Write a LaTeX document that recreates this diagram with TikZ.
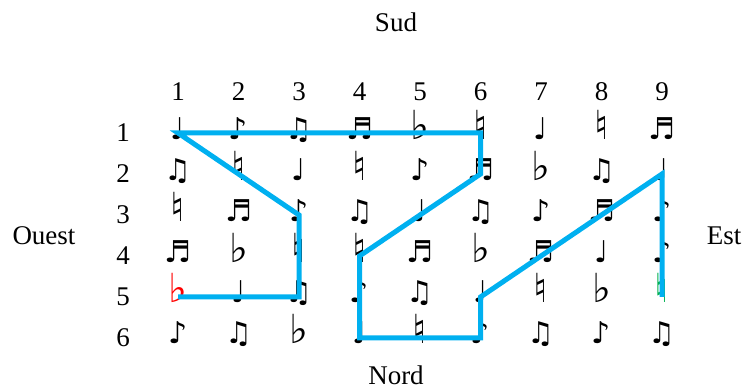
\documentclass[tikz,border=0pt]{standalone}
\usepackage{fontspec}
\setmainfont{Liberation Serif}
\newfontfamily\musicfont{DejaVu Sans}
\usetikzlibrary{matrix, positioning}
\definecolor{walkblue}{RGB}{0,176,240}
\definecolor{endgreen}{RGB}{0,176,80}
\newcommand\fl{{\fontsize{40}{40}\selectfont ♭}}
\newcommand\na{{\fontsize{40}{40}\selectfont ♮}}
\tikzset{
    cell/.style={minimum width=60.5pt, minimum height=41pt, inner sep=0pt,
      text height=18pt, text depth=6pt,
      font=\musicfont\fontsize{30}{30}\selectfont},
    lbl/.style={font=\fontsize{27}{27}\selectfont, inner sep=0pt},
    walk/.style={draw=walkblue, line width=5pt}
  }

\begin{document}
\begin{tikzpicture}
    \useasboundingbox (0,0) rectangle (747pt,391pt);
    \matrix (g) [matrix of nodes, nodes={cell}, column sep=0pt, row sep=0pt] at (420pt,155.5pt) {
      ♩ & ♪ & ♫ & ♬ & \fl & \na & ♩ & \na & ♬ \\
      ♫ & \na & ♩ & \na & ♪ & ♬ & \fl & ♫ & ♩ \\
      \na & ♬ & ♪ & ♫ & ♩ & ♫ & ♪ & ♬ & ♪ \\
      ♬ & \fl & \na & \na & ♬ & \fl & ♬ & ♩ & ♪ \\
      |[red]| \fl & ♩ & ♫ & ♪ & ♫ & ♩ & \na & \fl & |[endgreen]| \na \\
      ♪ & ♫ & \fl & ♩ & \na & ♪ & ♫ & ♪ & ♫ \\
    };
    \coordinate (top) at (0,299pt);
    \coordinate (left) at (123pt,0);
    \foreach \i in {1,...,9}
      \node[lbl] (col\i) at (g-1-\i |- top) {\i};
    \foreach \i in {1,...,6}
      \node[lbl] (row\i) at (left |- g-\i-1) {\i};
    \node[lbl] (sud) at (396pt,369pt) {Sud};
    \node[lbl] (nord) at (396pt,16pt) {Nord};
    \node[lbl] (ouest) at (44pt,155pt) {Ouest};
    \node[lbl] (est) at (724pt,155pt) {Est};
    % the walk from the red flat to the green natural
    \draw[walk] (g-5-1.center) -- (g-5-3.center) -- (g-3-3.center) -- (g-1-1.center)
      -- (g-1-6.center) -- (g-2-6.center) -- (g-4-4.center) -- (g-6-4.center)
      -- (g-6-6.center) -- (g-5-6.center) -- (g-2-9.center) -- (g-5-9.center);
\end{tikzpicture}
\end{document}
